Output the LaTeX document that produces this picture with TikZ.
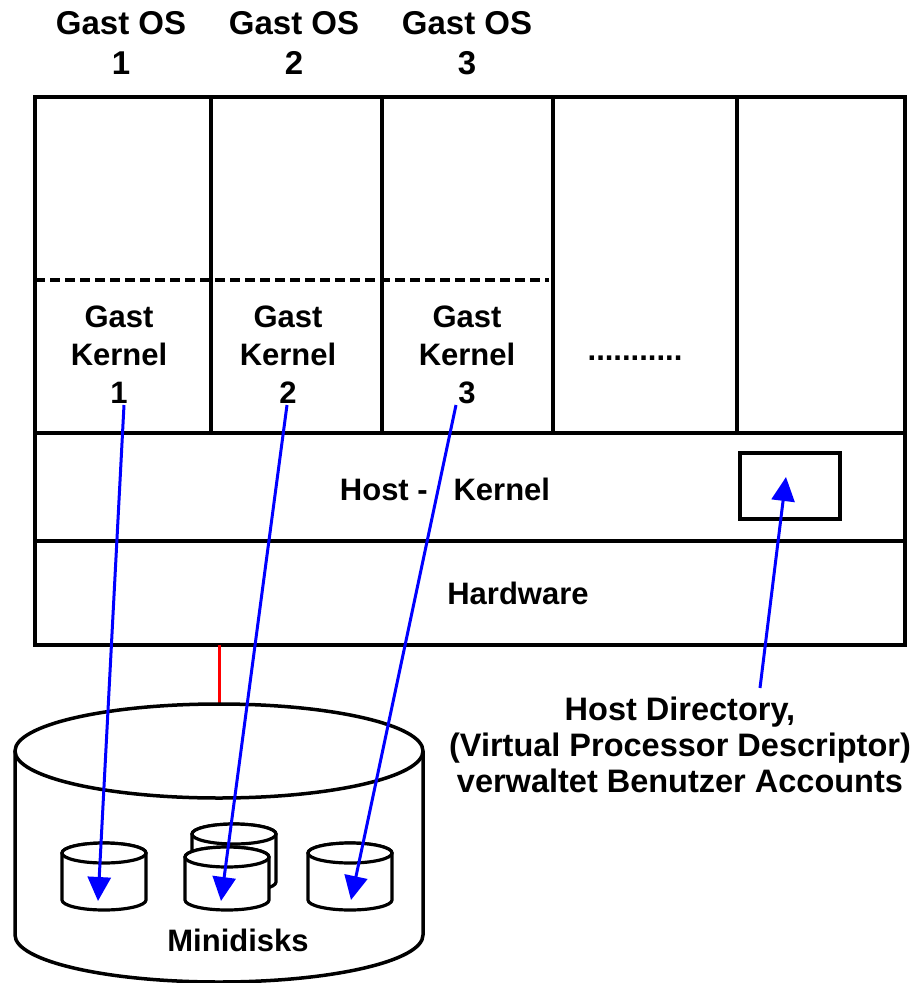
\documentclass[tikz,border=0pt]{standalone}
\usepackage{fontspec}
\setmainfont{Liberation Sans}
\usetikzlibrary{arrows.meta}
\tikzset{
  frame/.style={line width=3.5pt, line cap=rect},
  lbl/.style={font=\bfseries\fontsize{31}{38}\selectfont, align=center, inner sep=0pt},
  lbltop/.style={font=\bfseries\fontsize{33}{40}\selectfont, align=center, inner sep=0pt},
  lblb/.style={font=\bfseries\fontsize{32.5}{36}\selectfont, align=center, inner sep=0pt},
  ptr/.style={draw=blue, line width=3pt, -{Triangle[width=23pt,length=24pt]}},
  disk/.style={line width=3.2pt, fill=white},
}
\newcommand{\minicyl}[3]{%
  \filldraw[disk] (#1-42,#2) -- (#1-42,#3) arc[start angle=180,end angle=0,x radius=42,y radius=10] -- (#1+42,#2) arc[start angle=0,end angle=-180,x radius=42,y radius=10] -- cycle;
  \draw[disk] (#1,#2) ellipse[x radius=42,y radius=10];
}
\begin{document}
\begin{tikzpicture}[x=1pt,y=-1pt]
\useasboundingbox (0,0) rectangle (924,983);
% top labels
\node[lbltop] (os1) at (121,43) {Gast OS\\1};
\node[lbltop] (os2) at (294,43) {Gast OS\\2};
\node[lbltop] (os3) at (467,43) {Gast OS\\3};
% main frame
\draw[frame] (35,97) rectangle (905,645);
\draw[frame] (35,433) -- (905,433);
\draw[frame] (35,541) -- (905,541);
\foreach \x in {211,382,553,737} \draw[frame] (\x,97) -- (\x,433);
\draw[line width=3.5pt, dash pattern=on 10pt off 5pt] (35,280) -- (549,280);
% kernel labels
\node[lbl] (k1) at (119,355) {Gast\\Kernel\\1};
\node[lbl] (k2) at (288,355) {Gast\\Kernel\\2};
\node[lbl] (k3) at (467,355) {Gast\\Kernel\\3};
\node[lbl] (dots) at (635,358) {...........};
\node[lbl] (host) at (445,489) {Host -\ \ \ Kernel};
\node[lbl] (hw) at (518,593) {Hardware};
\node[draw, line width=3.5pt, minimum width=100pt, minimum height=66pt, inner sep=0pt] (dir) at (790,486) {};
\node[lblb] (hd) at (680,745) {Host Directory,\\(Virtual Processor Descriptor)\\verwaltet Benutzer Accounts};
% red link and big cylinder
\coordinate (hwlink) at (219,645);
\coordinate (cyltop) at (219,704);
\draw[red, line width=3pt] (hwlink) -- (cyltop);
\draw[line width=3.5pt] (15,751) -- (15,935) arc[start angle=180,end angle=0,x radius=204,y radius=47] -- (423,751);
\draw[line width=3.5pt] (219,751) ellipse[x radius=204,y radius=47];
\node[lbl] (mini) at (238,940) {Minidisks};
% minidisks
\minicyl{104}{853}{900}
\minicyl{234}{834}{882}
\minicyl{227}{857}{900}
\minicyl{350}{853}{900}
% arrows
\coordinate (s1) at (124,405);
\coordinate (s2) at (287,405);
\coordinate (s3) at (456,405);
\coordinate (d1) at (98,901);
\coordinate (d2) at (221,901);
\coordinate (d3) at (351,900);
\coordinate (s4) at (760,688);
\coordinate (t4) at (786,477);
\draw[ptr] (s1) -- (d1);
\draw[ptr] (s2) -- (d2);
\draw[ptr] (s3) -- (d3);
\draw[ptr] (s4) -- (t4);
\end{tikzpicture}
\end{document}
